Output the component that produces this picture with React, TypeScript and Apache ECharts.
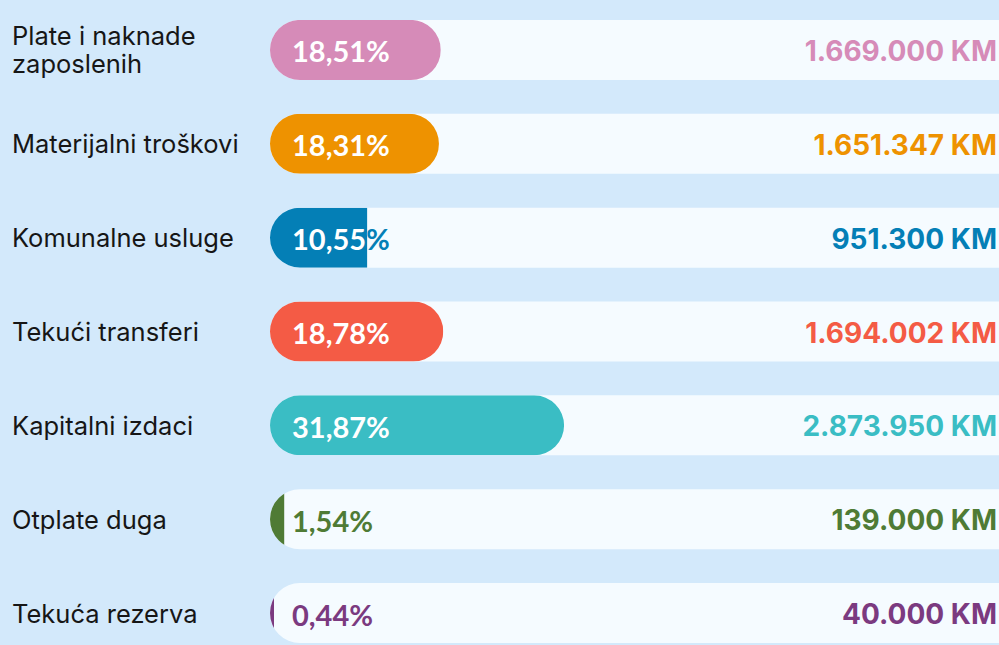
import React, { useEffect, useRef } from "react";
import * as echarts from "echarts";

const categories = [
  "Plate i naknade\nzaposlenih",
  "Materijalni troškovi",
  "Komunalne usluge",
  "Tekući transferi",
  "Kapitalni izdaci",
  "Otplate duga",
  "Tekuća rezerva",
];
const percents = [18.51, 18.31, 10.55, 18.78, 31.87, 1.54, 0.44];
const amounts = [1669000, 1651347, 951300, 1694002, 2873950, 139000, 40000];
const colors = ["#d68bb8", "#ee9200", "#047fb6", "#f45b45", "#3abdc4", "#4f7b35", "#7b3a80"];

const BG = "#d3e9fb";
const TRACK = "#f5fbff";
const PCT_SIZE = 29;
const PCT_FONT = `bold ${PCT_SIZE}px Lato`;
const fmtPct = (p: number) => p.toFixed(2).replace(".", ",") + "%";
const fmtAmt = (a: number) => String(a).replace(/\B(?=(\d{3})+(?!\d))/g, ".") + " KM";

function measure(text: string, font: string) {
  const ctx = document.createElement("canvas").getContext("2d");
  if (!ctx) return text.length * 15;
  ctx.font = font;
  return ctx.measureText(text).width;
}

export default function App() {
  const ref = useRef<HTMLDivElement>(null);
  useEffect(() => {
    if (!ref.current) return;
    const chart = echarts.init(ref.current, undefined, { renderer: "svg" });
    const H = 60;
    const R = 30;
    const PAD = 22;
    chart.setOption({
      animation: false,
      backgroundColor: BG,
      grid: { left: 270, right: 0, top: 3, bottom: 0 },
      xAxis: { type: "value", min: 0, max: 79, show: false },
      yAxis: { type: "category", data: categories, inverse: true, show: false },
      series: [
        {
          type: "custom",
          clip: false,
          data: percents.map((p, i) => [p, i]),
          encode: { x: 0, y: 1 },
          renderItem: (params: any, api: any) => {
            const i = params.dataIndex;
            const start = api.coord([0, i]);
            const end = api.coord([api.value(0), i]);
            const x0 = start[0];
            const cy = start[1];
            const w = Math.max(end[0] - x0, 0);
            const color = colors[i];
            const label = fmtPct(percents[i]);
            const fits = x0 + PAD + measure(label, PCT_FONT) <= x0 + w - 4;
            const pctStyle = {
              text: label,
              fontSize: PCT_SIZE,
              fontWeight: "bold",
              fontFamily: "Lato",
              textAlign: "left",
              textVerticalAlign: "middle",
            };
            return {
              type: "group",
              children: [
                {
                  type: "text",
                  x: 12,
                  y: cy,
                  style: {
                    text: categories[i],
                    fontSize: 25.5,
                    fontFamily: "Inter",
                    fill: "#161616",
                    lineHeight: 28,
                    textAlign: "left",
                    textVerticalAlign: "middle",
                  },
                },
                {
                  type: "rect",
                  shape: { x: x0, y: cy - H / 2, width: 1000, height: H, r: [R, 0, 0, R] },
                  style: { fill: TRACK },
                },
                {
                  type: "text",
                  x: x0 + PAD,
                  y: cy + 1,
                  style: { ...pctStyle, fill: color },
                },
                {
                  type: "group",
                  clipPath: {
                    type: "rect",
                    shape: { x: x0, y: cy - H / 2, width: w, height: H },
                  },
                  children: [
                    {
                      type: "rect",
                      shape: {
                        x: x0,
                        y: cy - H / 2,
                        width: Math.max(w, 2 * R),
                        height: H,
                        r: fits ? R : [R, 0, 0, R],
                      },
                      style: { fill: color },
                    },
                    {
                      type: "text",
                      x: x0 + PAD,
                      y: cy + 1,
                      style: { ...pctStyle, fill: "#ffffff" },
                    },
                  ],
                },
                {
                  type: "text",
                  x: 997,
                  y: cy + 1,
                  style: {
                    text: fmtAmt(amounts[i]),
                    fontSize: 28,
                    fontWeight: "bold",
                    fontFamily: "Inter",
                    fill: color,
                    textAlign: "right",
                    textVerticalAlign: "middle",
                  },
                },
              ],
            };
          },
        },
      ],
    });
    return () => chart.dispose();
  }, []);
  return (
    <div
      ref={ref}
      style={{ position: "fixed", left: 0, top: 0, width: 999, height: 660 }}
    />
  );
}
